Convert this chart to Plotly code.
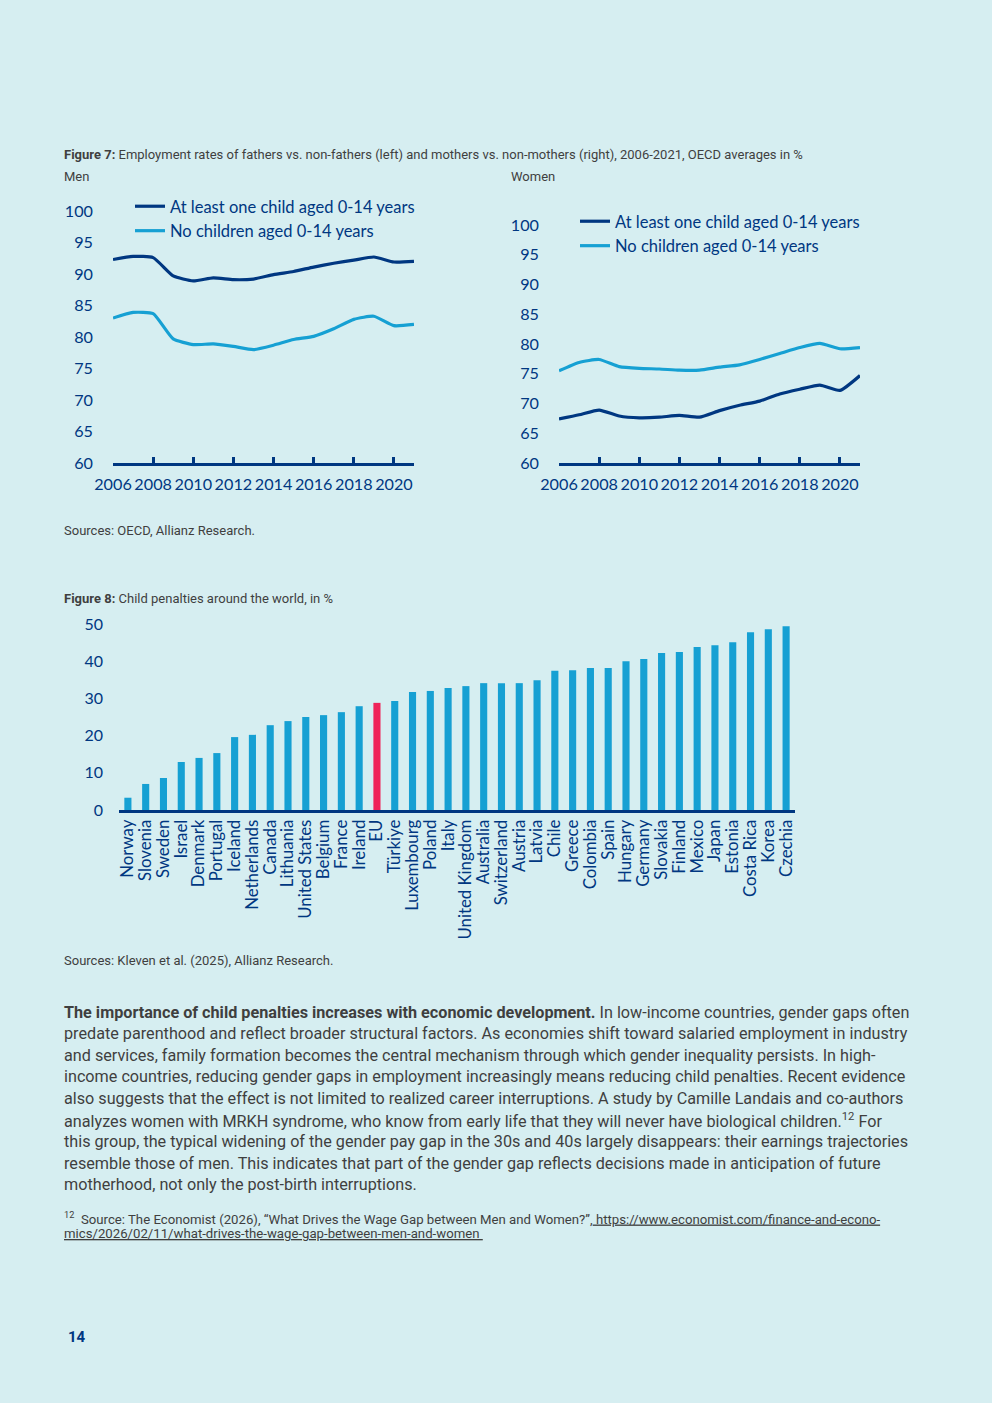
import plotly.graph_objects as go

# ---------------- data ----------------
years = list(range(2006, 2022))
men_fathers = [92.3, 92.8, 92.6, 89.7, 88.9, 89.4, 89.1, 89.2, 89.9, 90.4, 91.1, 91.7, 92.2, 92.7, 91.9, 92.0]
men_nonfathers = [83.0, 83.9, 83.7, 79.7, 78.8, 78.9, 78.5, 78.0, 78.7, 79.6, 80.1, 81.3, 82.8, 83.3, 81.8, 82.0]
women_mothers = [67.4, 68.1, 68.9, 67.9, 67.6, 67.7, 68.0, 67.7, 68.8, 69.7, 70.4, 71.6, 72.4, 73.1, 72.2, 74.7]
women_nonmothers = [75.5, 76.9, 77.4, 76.2, 75.9, 75.8, 75.6, 75.6, 76.1, 76.5, 77.4, 78.4, 79.4, 80.1, 79.2, 79.4]
series_names = ["At least one child aged 0-14 years", "No children aged 0-14 years"]
year_ticks = list(range(2006, 2021, 2))

countries = ["Norway", "Slovenia", "Sweden", "Israel", "Denmark", "Portugal", "Iceland",
             "Netherlands", "Canada", "Lithuania", "United States", "Belgium", "France",
             "Ireland", "EU", "Türkiye", "Luxembourg", "Poland", "Italy", "United Kingdom",
             "Australia", "Switzerland", "Austria", "Latvia", "Chile", "Greece", "Colombia",
             "Spain", "Hungary", "Germany", "Slovakia", "Finland", "Mexico", "Japan",
             "Estonia", "Costa Rica", "Korea", "Czechia"]
penalties = [3.3, 7.0, 8.6, 12.9, 14.0, 15.3, 19.6, 20.2, 22.8, 23.9, 25.0, 25.5, 26.3,
             27.9, 28.8, 29.3, 31.7, 32.0, 32.8, 33.3, 34.1, 34.1, 34.1, 34.9, 37.4, 37.6,
             38.2, 38.2, 40.0, 40.6, 42.2, 42.5, 43.8, 44.3, 45.1, 47.8, 48.6, 49.4]
highlight = "EU"

# ---------------- style ----------------
W, H = 992, 1403
BG = "#d6eef1"
NAVY = "#003781"
LIGHT = "#16a0d3"
RED = "#ef2459"
GRAY = "#3f3f3f"
CF = "Lato"
BF = "Roboto"


def px(x):
    return x / W


def py(y):
    return 1 - y / H


fig = go.Figure()

# Left chart (Men)
fig.add_trace(go.Scatter(x=years, y=men_fathers, name=series_names[0], mode="lines",
                         line=dict(color=NAVY, width=3.2, shape="spline", smoothing=0.5),
                         xaxis="x", yaxis="y", legend="legend"))
fig.add_trace(go.Scatter(x=years, y=men_nonfathers, name=series_names[1], mode="lines",
                         line=dict(color=LIGHT, width=3.2, shape="spline", smoothing=0.5),
                         xaxis="x", yaxis="y", legend="legend"))
# Right chart (Women)
fig.add_trace(go.Scatter(x=years, y=women_mothers, name=series_names[0], mode="lines",
                         line=dict(color=NAVY, width=3.2, shape="spline", smoothing=0.5),
                         xaxis="x2", yaxis="y2", legend="legend2"))
fig.add_trace(go.Scatter(x=years, y=women_nonmothers, name=series_names[1], mode="lines",
                         line=dict(color=LIGHT, width=3.2, shape="spline", smoothing=0.5),
                         xaxis="x2", yaxis="y2", legend="legend2"))
# Bar chart
bar_colors = [RED if c == highlight else LIGHT for c in countries]
fig.add_trace(go.Bar(x=countries, y=penalties, marker=dict(color=bar_colors, line=dict(width=0)),
                     xaxis="x3", yaxis="y3", showlegend=False))

tickfont = dict(family=CF, size=16.2, color=NAVY)

common_x = dict(showgrid=False, zeroline=False, showline=True, linecolor=NAVY, linewidth=3,
                ticks="inside", ticklen=6, tickwidth=2.5, tickcolor=NAVY,
                tickvals=year_ticks, tickfont=tickfont, tickangle=0, range=[2006, 2021],
                fixedrange=True, ticklabelstandoff=5, automargin=False)
common_y = dict(showgrid=False, zeroline=False, showline=False, ticks="",
                tickvals=list(range(60, 101, 5)), range=[60, 100], tickfont=tickfont,
                ticklabelstandoff=19, fixedrange=True, automargin=False)

legend_font = dict(family=CF, size=16.5, color=NAVY)

fig.update_layout(
    width=W, height=H,
    margin=dict(l=0, r=0, t=0, b=0, pad=0, autoexpand=False),
    paper_bgcolor=BG, plot_bgcolor="rgba(0,0,0,0)",
    bargap=0.6,
    xaxis=dict(domain=[px(113), px(414)], anchor="y", **common_x),
    yaxis=dict(domain=[py(463), py(211)], anchor="x", **common_y),
    xaxis2=dict(domain=[px(559), px(860)], anchor="y2", **common_x),
    yaxis2=dict(domain=[py(463), py(225)], anchor="x2", **common_y),
    xaxis3=dict(domain=[px(119), px(795)], anchor="y3", showgrid=False, zeroline=False,
                showline=True, linecolor=NAVY, linewidth=3, ticks="", tickangle=-90,
                tickmode="array", tickvals=countries, ticktext=countries,
                tickfont=dict(family=CF, size=16.8, color=NAVY), range=[-0.5, len(countries) - 0.5],
                fixedrange=True, automargin=False),
    yaxis3=dict(domain=[py(810), py(624)], anchor="x3", showgrid=False, zeroline=False,
                showline=False, ticks="", range=[0, 50], tickvals=list(range(0, 51, 10)),
                tickfont=dict(family=CF, size=16, color=NAVY), ticklabelstandoff=15,
                fixedrange=True, automargin=False),
    legend=dict(x=px(130), y=py(189), xanchor="left", yanchor="top",
                bgcolor="rgba(0,0,0,0)", borderwidth=0, itemwidth=30,
                font=legend_font, tracegroupgap=0),
    legend2=dict(x=px(575), y=py(204), xanchor="left", yanchor="top",
                 bgcolor="rgba(0,0,0,0)", borderwidth=0, itemwidth=30,
                 font=legend_font, tracegroupgap=0),
    showlegend=True,
)

ann = []


def text(x, y, s, size, color=GRAY, family=BF):
    ann.append(dict(x=px(x), y=py(y), xref="paper", yref="paper", xanchor="left",
                    yanchor="middle", text=s, showarrow=False,
                    font=dict(family=family, size=size, color=color)))


text(62, 155, "<b>Figure 7:</b> Employment rates of fathers vs. non-fathers (left) and mothers vs. non-mothers (right), 2006-2021, OECD averages in %", 13)
text(62, 176, "Men", 13)
text(509, 176, "Women", 13)
text(62, 530, "Sources: OECD, Allianz Research.", 13)
text(62, 598, "<b>Figure 8:</b> Child penalties around the world, in %", 13)
text(62, 960, "Sources: Kleven et al. (2025), Allianz Research.", 13)

body = [
    "<b>The importance of child penalties increases with economic development.</b> In low-income countries, gender gaps often",
    "predate parenthood and reflect broader structural factors. As economies shift toward salaried employment in industry",
    "and services, family formation becomes the central mechanism through which gender inequality persists. In high-",
    "income countries, reducing gender gaps in employment increasingly means reducing child penalties. Recent evidence",
    "also suggests that the effect is not limited to realized career interruptions. A study by Camille Landais and co-authors",
    "analyzes women with MRKH syndrome, who know from early life that they will never have biological children.<sup>12</sup> For",
    "this group, the typical widening of the gender pay gap in the 30s and 40s largely disappears: their earnings trajectories",
    "resemble those of men. This indicates that part of the gender gap reflects decisions made in anticipation of future",
    "motherhood, not only the post-birth interruptions.",
]
for i, line in enumerate(body):
    text(62, 1012 + i * 21.6, line, 16.2)

text(62, 1218, "<sup>12</sup>  Source: The Economist (2026), “What Drives the Wage Gap between Men and Women?”,<u> https://www.economist.com/finance-and-econo-</u>", 13.2)
text(62, 1233, "<u>mics/2026/02/11/what-drives-the-wage-gap-between-men-and-women </u>", 13.2)
text(66, 1337, "<b>14</b>", 15, color=NAVY)

fig.update_layout(annotations=ann)

fig.write_html("out.html", config={"displayModeBar": False},
               post_script="document.body.style.margin='0';")
